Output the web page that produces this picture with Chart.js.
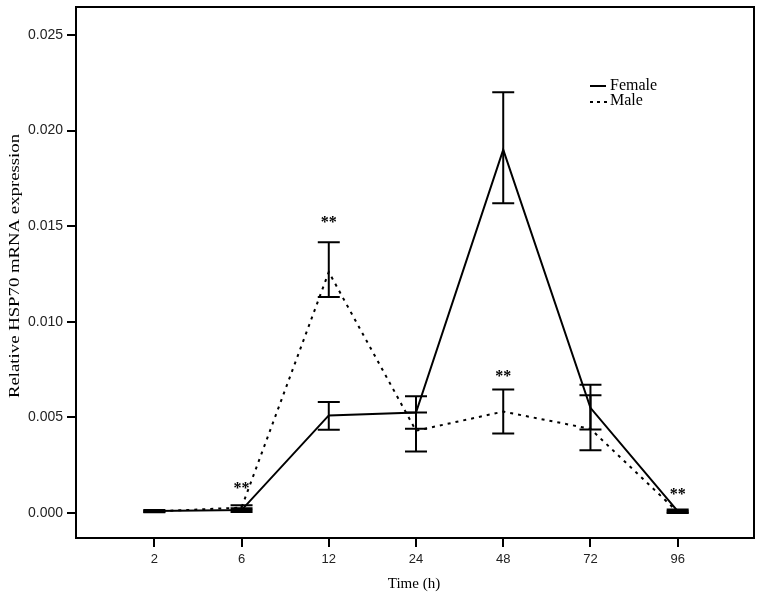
<!DOCTYPE html>
<html>
<head>
<meta charset="utf-8">
<script src="https://cdn.jsdelivr.net/npm/chart.js@4"></script>
<style>
  html, body { margin: 0; padding: 0; background: #fff; }
  #wrap { width: 761px; height: 599px; }
</style>
</head>
<body>
<div id="wrap"><canvas id="hspChart" width="761" height="599"></canvas></div>
<script>
// Datos (h = horas)
var timeLabels = ['2', '6', '12', '24', '48', '72', '96'];
var yTicks = [0, 0.005, 0.010, 0.015, 0.020, 0.025];

var femaleMean  = [0.0001,  0.00015, 0.0051,  0.00525, 0.0190,  0.0055,  0.0001];
var femaleUpper = [0.00015, 0.00025, 0.0058,  0.0061,  0.0220,  0.0067,  0.00018];
var femaleLower = [0.00005, 0.00005, 0.00435, 0.0044,  0.0162,  0.00437, 0.00002];

var maleMean  = [0.00008, 0.00028, 0.0126,  0.0043,  0.0053,  0.0044,  0.00005];
var maleUpper = [0.00012, 0.0004,  0.01416, 0.00525, 0.00646, 0.00615, 0.0001];
var maleLower = [0.00004, 0.00016, 0.01129, 0.00322, 0.00415, 0.00328, 0.0];

// Marcas de significancia (**)
var sigIndex = [1, 2, 4, 6];
var sigY = [0.0014, 0.01534, 0.0073, 0.00108];

function toPoints(values) {
    return values.map(function (v, i) { return { x: i, y: v }; });
}

// Barras de error, caja, leyenda y titulos
var extrasPlugin = {
    id: 'extras',
    afterDatasetsDraw: function (chart) {
        var ctx = chart.ctx;
        var xs = chart.scales.x, ys = chart.scales.y;
        var area = chart.chartArea;

        ctx.save();
        ctx.strokeStyle = '#000';
        ctx.lineWidth = 2;
        ctx.setLineDash([]);

        var bars = [[femaleUpper, femaleLower], [maleUpper, maleLower]];
        bars.forEach(function (b) {
            b[0].forEach(function (up, i) {
                var px = xs.getPixelForValue(i);
                var pu = ys.getPixelForValue(up);
                var pl = ys.getPixelForValue(b[1][i]);
                ctx.beginPath();
                ctx.moveTo(px, pu); ctx.lineTo(px, pl);
                ctx.moveTo(px - 11, pu); ctx.lineTo(px + 11, pu);
                ctx.moveTo(px - 11, pl); ctx.lineTo(px + 11, pl);
                ctx.stroke();
            });
        });

        // caja del grafico
        ctx.strokeRect(area.left, area.top, area.right - area.left, area.bottom - area.top);

        // asteriscos
        ctx.fillStyle = '#000';
        ctx.font = 'bold 16px "Liberation Serif"';
        ctx.textAlign = 'center';
        ctx.textBaseline = 'middle';
        sigIndex.forEach(function (idx, k) {
            ctx.fillText('**', xs.getPixelForValue(idx), ys.getPixelForValue(sigY[k]) + 3);
        });

        // leyenda
        ctx.font = '16px "Liberation Serif"';
        ctx.textAlign = 'left';
        ctx.beginPath();
        ctx.moveTo(590, 86); ctx.lineTo(606, 86);
        ctx.stroke();
        ctx.fillText('Female', 610, 86);
        ctx.setLineDash([3, 4]);
        ctx.beginPath();
        ctx.moveTo(590, 102); ctx.lineTo(607, 102);
        ctx.stroke();
        ctx.setLineDash([]);
        ctx.fillText('Male', 610, 101);

        // titulos de ejes
        ctx.font = '15px "Liberation Serif"';
        ctx.textAlign = 'center';
        ctx.fillText('Time (h)', 414, 584);
        var yTitle = 'Relative HSP70 mRNA expression';
        var stretch = 264 / ctx.measureText(yTitle).width;
        ctx.translate(15, 266);
        ctx.rotate(-Math.PI / 2);
        ctx.scale(stretch, 1);
        ctx.fillText(yTitle, 0, 0);
        ctx.restore();
    }
};

var hspChart = new Chart(document.getElementById('hspChart'), {
    type: 'line',
    data: {
        datasets: [
            {
                label: 'Female',
                data: toPoints(femaleMean),
                borderColor: '#000',
                borderWidth: 2,
                pointRadius: 0,
                fill: false,
                tension: 0
            },
            {
                label: 'Male',
                data: toPoints(maleMean),
                borderColor: '#000',
                borderWidth: 2,
                borderDash: [3, 5],
                pointRadius: 0,
                fill: false,
                tension: 0
            }
        ]
    },
    options: {
        responsive: false,
        animation: false,
        layout: { padding: { top: 7, right: 7, left: 0, bottom: 0 } },
        plugins: {
            legend: { display: false },
            tooltip: { enabled: false }
        },
        scales: {
            x: {
                type: 'linear',
                min: -0.898,
                max: 6.875,
                afterBuildTicks: function (axis) {
                    axis.ticks = timeLabels.map(function (t, i) { return { value: i }; });
                },
                afterFit: function (axis) {
                    axis.height = 61;
                    axis.paddingLeft = 0;
                    axis.paddingRight = 0;
                },
                ticks: {
                    color: '#222',
                    font: { family: '"Liberation Sans"', size: 13 },
                    padding: 5,
                    maxRotation: 0,
                    callback: function (v) { return timeLabels[v]; }
                },
                grid: {
                    drawOnChartArea: false,
                    color: '#000',
                    lineWidth: 2,
                    tickLength: 9
                },
                border: { color: '#000', width: 2 }
            },
            y: {
                min: -0.00131,
                max: 0.02646,
                afterBuildTicks: function (axis) {
                    axis.ticks = yTicks.map(function (v) { return { value: v }; });
                },
                afterFit: function (axis) {
                    axis.width = 76;
                    axis.paddingTop = 0;
                    axis.paddingBottom = 0;
                },
                ticks: {
                    color: '#222',
                    font: { family: '"Liberation Sans"', size: 14 },
                    padding: 4,
                    callback: function (v) { return v.toFixed(3); }
                },
                grid: {
                    drawOnChartArea: false,
                    color: '#000',
                    lineWidth: 2,
                    tickLength: 9
                },
                border: { color: '#000', width: 2 }
            }
        }
    },
    plugins: [extrasPlugin]
});
</script>
</body>
</html>
